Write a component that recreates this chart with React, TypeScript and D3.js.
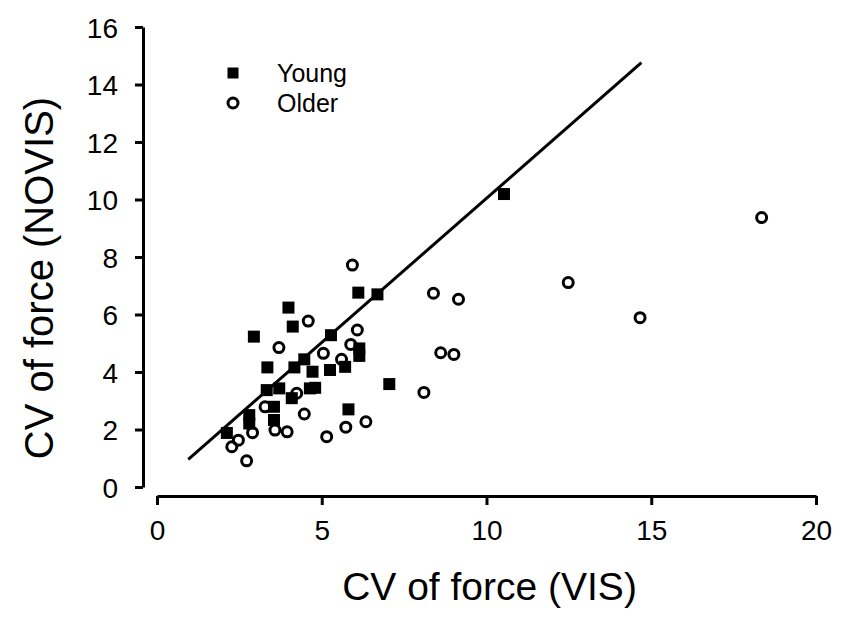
import * as d3 from "d3";
import { useEffect, useRef } from "react";

// values
const youngX = [2.12, 2.94, 3.99, 4.12, 6.11, 6.69, 5.28, 6.14, 6.14, 3.35, 4.17, 4.47, 4.72, 5.25, 5.71, 3.33, 3.71, 4.09, 4.64, 4.8, 2.8, 2.8, 3.55, 3.55, 5.81, 7.05, 10.53];
const youngY = [1.88, 5.23, 6.24, 5.58, 6.76, 6.7, 5.28, 4.82, 4.56, 4.16, 4.16, 4.44, 4.01, 4.07, 4.18, 3.37, 3.43, 3.09, 3.43, 3.45, 2.5, 2.21, 2.79, 2.33, 2.7, 3.58, 10.19];

const olderX = [5.93, 4.59, 6.08, 3.7, 5.05, 5.88, 5.6, 4.24, 3.28, 4.47, 2.9, 3.58, 3.95, 2.47, 2.27, 2.72, 5.15, 5.73, 6.34, 8.39, 9.15, 12.48, 18.35, 14.66, 8.61, 9.01, 8.1];
const olderY = [7.72, 5.77, 5.46, 4.85, 4.65, 4.96, 4.44, 3.26, 2.79, 2.54, 1.89, 1.98, 1.92, 1.63, 1.4, 0.91, 1.75, 2.08, 2.27, 6.74, 6.53, 7.11, 9.37, 5.89, 4.67, 4.61, 3.29];

// line of identity, as drawn
const lineX = [0.95, 14.7];
const lineY = [0.96, 14.76];

const xTicks = [0, 5, 10, 15, 20];
const yTicks = [0, 2, 4, 6, 8, 10, 12, 14, 16];

const legendLabels = ["Young", "Older"];

const FONT = "'Liberation Sans', Arial, sans-serif";

const App = () => {
  const svgRef = useRef<SVGSVGElement | null>(null);

  useEffect(() => {
    const svg = d3.select(svgRef.current);
    svg.selectAll("*").remove();

    const x = d3.scaleLinear().domain([0, 20]).range([157, 816]);
    const y = d3.scaleLinear().domain([0, 16]).range([487, 27]);

    const yAxisX = 143;
    const xAxisY = 496;

    // y axis (offset from x axis, SigmaPlot style)
    const yAxis = svg
      .append("g")
      .attr("transform", `translate(${yAxisX},0)`)
      .call(d3.axisLeft(y).tickValues(yTicks).tickSize(8).tickPadding(17).tickSizeOuter(0));
    yAxis.select(".domain").attr("stroke-width", 3);
    yAxis.selectAll(".tick line").attr("stroke-width", 3);
    yAxis
      .selectAll(".tick text")
      .style("font-family", FONT)
      .style("font-size", "28px")
      .attr("fill", "#000")
      .attr("dy", "0.36em");

    const xAxis = svg
      .append("g")
      .attr("transform", `translate(0,${xAxisY})`)
      .call(d3.axisBottom(x).tickValues(xTicks).tickSize(9).tickPadding(15).tickSizeOuter(0));
    xAxis.select(".domain").attr("stroke-width", 3);
    xAxis.selectAll(".tick line").attr("stroke-width", 3);
    xAxis
      .selectAll(".tick text")
      .style("font-family", FONT)
      .style("font-size", "28px")
      .attr("fill", "#000");

    // axis titles
    svg
      .append("text")
      .attr("x", (x(0) + x(20)) / 2 + 3)
      .attr("y", 600)
      .attr("text-anchor", "middle")
      .style("font-family", FONT)
      .style("font-size", "39px")
      .text("CV of force (VIS)");

    svg
      .append("text")
      .attr("transform", `translate(53,${278}) rotate(-90)`)
      .attr("text-anchor", "middle")
      .style("font-family", FONT)
      .style("font-size", "40px")
      .text("CV of force (NOVIS)");

    // identity line
    const line = d3
      .line<number>()
      .x((_, i) => x(lineX[i]))
      .y((_, i) => y(lineY[i]));
    svg
      .append("path")
      .datum(lineX)
      .attr("d", line)
      .attr("fill", "none")
      .attr("stroke", "#000")
      .attr("stroke-width", 3);

    const sq = 12;

    svg
      .append("g")
      .selectAll("rect")
      .data(youngX.map((v, i) => ({ x: v, y: youngY[i] })))
      .enter()
      .append("rect")
      .attr("x", (d) => x(d.x) - sq / 2)
      .attr("y", (d) => y(d.y) - sq / 2)
      .attr("width", sq)
      .attr("height", sq)
      .attr("fill", "#000");

    svg
      .append("g")
      .selectAll("circle")
      .data(olderX.map((v, i) => ({ x: v, y: olderY[i] })))
      .enter()
      .append("circle")
      .attr("cx", (d) => x(d.x))
      .attr("cy", (d) => y(d.y))
      .attr("r", 5)
      .attr("fill", "none")
      .attr("stroke", "#000")
      .attr("stroke-width", 3);

    // legend
    const legend = svg.append("g");
    legend
      .append("rect")
      .attr("x", 233 - 11 / 2)
      .attr("y", 73 - 11 / 2)
      .attr("width", 11)
      .attr("height", 11)
      .attr("fill", "#000");
    legend
      .append("circle")
      .attr("cx", 233)
      .attr("cy", 103)
      .attr("r", 5)
      .attr("fill", "none")
      .attr("stroke", "#000")
      .attr("stroke-width", 3);
    legend
      .selectAll("text")
      .data(legendLabels)
      .enter()
      .append("text")
      .attr("x", 277)
      .attr("y", (_, i) => 82 + i * 30)
      .style("font-family", FONT)
      .style("font-size", "25px")
      .text((d) => d);
  }, []);

  return (
    <svg
      ref={svgRef}
      width={850}
      height={639}
      style={{ position: "absolute", left: 0, top: 0, background: "#fff" }}
    />
  );
};

export default App;
